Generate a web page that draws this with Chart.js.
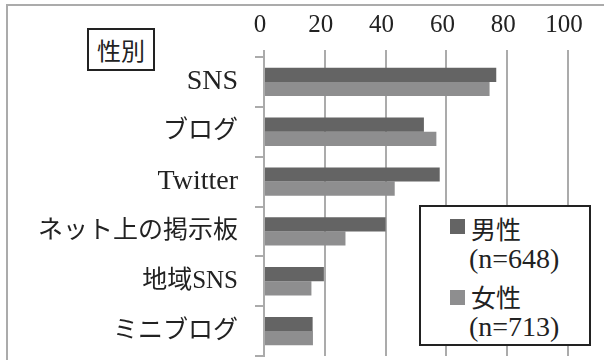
<!DOCTYPE html>
<html>
<head>
<meta charset="utf-8">
<script src="https://cdn.jsdelivr.net/npm/chart.js@4/dist/chart.umd.min.js"></script>
<style>
  html, body { margin: 0; padding: 0; background: #fff; }
  #wrap { position: relative; width: 604px; height: 360px; overflow: hidden; background: #fff; }
  #frame { position: absolute; left: 6px; top: 4px; width: 640px; height: 400px; border-top: 2px solid #ababab; border-left: 2px solid #ababab; box-sizing: border-box; }
  #c { position: absolute; left: 0; top: 0; }
  #title { position: absolute; left: 87px; top: 28px; width: 68px; height: 43px; box-sizing: border-box; border: 2px solid #222; background: #fff;
           font: 24px 'Noto Sans CJK JP', sans-serif; color: #222; display: flex; align-items: center; justify-content: center; }
  #legend { position: absolute; left: 419px; top: 205px; width: 172px; height: 141px; box-sizing: border-box; border: 2px solid #222; background: #fff; }
  .sq { position: absolute; width: 15px; height: 15px; }
  .ln { position: absolute; white-space: nowrap; color: #222; line-height: 34px; height: 34px; }
  .jp { font: 25px 'Noto Sans CJK JP', sans-serif; }
  .en { font: 28px 'Liberation Serif', serif; }
</style>
</head>
<body>
<div id="wrap">
  <div id="frame"></div>
  <canvas id="c" width="604" height="360"></canvas>
  <div id="title"></div>
  <div id="legend"></div>
</div>
<script>
// ---- data ----
const categories = ['SNS', 'ブログ', 'Twitter', 'ネット上の掲示板', '地域SNS', 'ミニブログ'];
const maleValues = [76.4, 52.6, 57.8, 40.0, 19.7, 16.0];
const femaleValues = [74.2, 56.7, 43.0, 26.8, 15.6, 16.1];
const seriesNames = ['男性', '女性'];
const seriesCounts = ['(n=648)', '(n=713)'];
const groupTitle = '性別';
const xTicks = [0, 20, 40, 60, 80, 100];

const colors = ['#646464', '#8e8e8f'];

document.getElementById('title').textContent = groupTitle;

// legend (HTML text)
const legend = document.getElementById('legend');
const sqTops = [12, 83];
const nameTops = [3, 71];
const cntTops = [36, 104];
seriesNames.forEach((name, i) => {
  const sq = document.createElement('div');
  sq.className = 'sq';
  sq.style.left = '29px';
  sq.style.top = sqTops[i] + 'px';
  sq.style.background = colors[i];
  legend.appendChild(sq);
  const t = document.createElement('div');
  t.className = 'ln jp';
  t.style.left = '50px';
  t.style.top = nameTops[i] + 'px';
  t.textContent = name;
  legend.appendChild(t);
  const n = document.createElement('div');
  n.className = 'ln en';
  n.style.left = '48px';
  n.style.top = cntTops[i] + 'px';
  n.textContent = seriesCounts[i];
  legend.appendChild(n);
});

const FAMILY = "'Liberation Serif', 'Noto Sans CJK JP', serif";

new Chart(document.getElementById('c'), {
  type: 'bar',
  data: {
    labels: categories,
    datasets: [
      { label: seriesNames[0], data: maleValues, backgroundColor: colors[0], borderWidth: 0,
        categoryPercentage: 0.57, barPercentage: 1.0 },
      { label: seriesNames[1], data: femaleValues, backgroundColor: colors[1], borderWidth: 0,
        categoryPercentage: 0.57, barPercentage: 1.0 }
    ]
  },
  options: {
    indexAxis: 'y',
    responsive: false,
    animation: false,
    devicePixelRatio: 1,
    layout: { padding: { top: 0, left: 0, right: 36, bottom: 4 } },
    plugins: { legend: { display: false }, tooltip: { enabled: false } },
    scales: {
      x: {
        position: 'top',
        min: xTicks[0],
        max: xTicks[xTicks.length - 1],
        afterBuildTicks: (s) => { s.ticks = xTicks.map(v => ({ value: v })); },
        afterFit: (s) => { s.height = 57; s.paddingLeft = 0; s.paddingRight = 0; },
        ticks: { font: { family: FAMILY, size: 25 }, color: '#222', padding: 10, labelOffset: -4 },
        grid: { color: '#ababab', lineWidth: 2, tickLength: 7, drawTicks: true },
        border: { display: false }
      },
      y: {
        afterFit: (s) => { s.width = 264; s.paddingTop = 0; s.paddingBottom = 0; },
        ticks: {
          color: '#222',
          padding: 17,
          font: (ctx) => {
            const lbl = ctx.tick && ctx.tick.label ? String(ctx.tick.label) : '';
            const cjk = /[^\x00-\x7F]/.test(lbl);
            return { family: FAMILY, size: cjk ? 25 : 28 };
          }
        },
        grid: { color: '#ababab', lineWidth: 2, drawOnChartArea: false, drawTicks: true, tickLength: 9, offset: true },
        border: { display: true, color: '#ababab', width: 2 }
      }
    }
  }
});
</script>
</body>
</html>
